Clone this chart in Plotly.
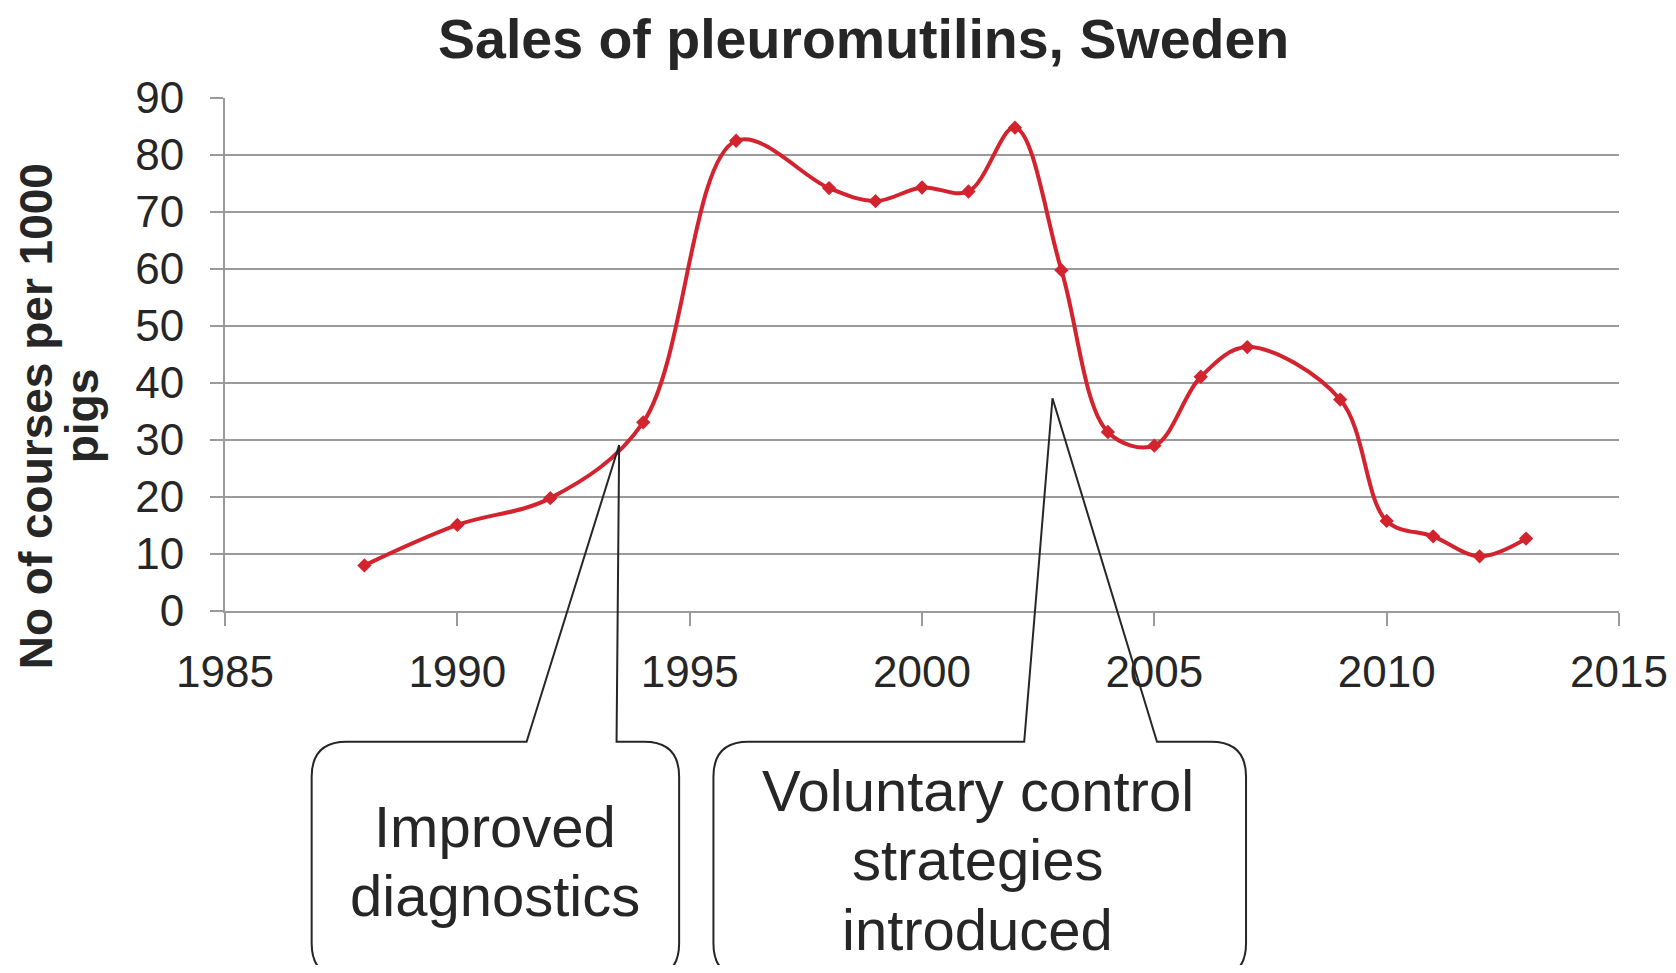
import plotly.graph_objects as go

# ---- data ----
years = [1988, 1990, 1992, 1994, 1996, 1998, 1999, 2000, 2001, 2002,
         2003, 2004, 2005, 2006, 2007, 2009, 2010, 2011, 2012, 2013]
courses = [8.0, 15.1, 19.8, 33.1, 82.5, 74.2, 71.9, 74.3, 73.6, 84.8,
           59.8, 31.4, 29.0, 41.1, 46.3, 37.1, 15.8, 13.1, 9.6, 12.7]

title_text = "Sales of pleuromutilins, Sweden"
ytitle_lines = ["No of courses per 1000", "pigs"]
callout1_lines = ["Improved", "diagnostics"]
callout2_lines = ["Voluntary control", "strategies", "introduced"]
x_ticks = [1985, 1990, 1995, 2000, 2005, 2010, 2015]
y_ticks = [0, 10, 20, 30, 40, 50, 60, 70, 80, 90]

# ---- layout geometry (page pixels of the reference) ----
PAGE_W, PAGE_H = 1676, 973
OFF = 8  # default body margin of the html page
W, H = PAGE_W - 2 * OFF, PAGE_H - 2 * OFF
L, R, T, B = 225.0, 1619.5, 98.2, 611.0
FONT = "Liberation Sans, Arial, sans-serif"
TXT = "#262626"
GRID = "#9a9a9a"
RED = "#d2232e"


def paper(px, py):
    return (px - L) / (R - L), (B - py) / (B - T)


def callout_path(x0, x1, top, bottom, base_l, base_r, tip, r=35):
    def P(x, y):
        a, b = paper(x, y)
        return f"{a:.5f},{b:.5f}"

    s = f"M{P(base_l, top)} L{P(*tip)} L{P(base_r, top)} L{P(x1 - r, top)} "
    s += f"Q{P(x1, top)} {P(x1, top + r)} L{P(x1, bottom - r)} "
    s += f"Q{P(x1, bottom)} {P(x1 - r, bottom)} L{P(x0 + r, bottom)} "
    s += f"Q{P(x0, bottom)} {P(x0, bottom - r)} L{P(x0, top + r)} "
    s += f"Q{P(x0, top)} {P(x0 + r, top)} Z"
    return s


fig = go.Figure()
fig.add_trace(go.Scatter(
    x=years, y=courses, mode="lines+markers",
    line=dict(color=RED, width=4, shape="spline", smoothing=1.0),
    marker=dict(symbol="diamond", size=11, color=RED),
    showlegend=False, hoverinfo="x+y",
))

shapes = [
    dict(type="path", xref="paper", yref="paper",
         path=callout_path(311.7, 679.3, 741.7, 978, 526.7, 616.7, (619.3, 445.0)),
         line=dict(color=TXT, width=2), fillcolor="rgba(0,0,0,0)", layer="above"),
    dict(type="path", xref="paper", yref="paper",
         path=callout_path(713.6, 1246.4, 741.7, 978, 1024.5, 1157.3, (1052.8, 398.3)),
         line=dict(color=TXT, width=2), fillcolor="rgba(0,0,0,0)", layer="above"),
]

annotations = []
tx, ty = paper(864, 39.5)
annotations.append(dict(text=f"<b>{title_text}</b>", x=tx, y=ty, xref="paper", yref="paper",
                        showarrow=False, xanchor="center", yanchor="middle",
                        font=dict(family=FONT, size=55.5, color=TXT)))
for line, cx in zip(ytitle_lines, [36.0, 82.0]):
    ax, ay = paper(cx, 416.3)
    annotations.append(dict(text=f"<b>{line}</b>", x=ax, y=ay, xref="paper", yref="paper",
                            showarrow=False, xanchor="center", yanchor="middle", textangle=-90,
                            font=dict(family=FONT, size=46, color=TXT)))
for line, cy in zip(callout1_lines, [826.6, 894.9]):
    ax, ay = paper(495.5, cy)
    annotations.append(dict(text=line, x=ax, y=ay, xref="paper", yref="paper",
                            showarrow=False, xanchor="center", yanchor="middle",
                            font=dict(family=FONT, size=58, color=TXT)))
for line, cy in zip(callout2_lines, [790.0, 859.0, 929.0]):
    ax, ay = paper(978.0, cy)
    annotations.append(dict(text=line, x=ax, y=ay, xref="paper", yref="paper",
                            showarrow=False, xanchor="center", yanchor="middle",
                            font=dict(family=FONT, size=58, color=TXT)))

fig.update_layout(
    width=W, height=H, autosize=False,
    margin=dict(l=L - OFF, r=W - (R - OFF), t=T - OFF, b=H - (B - OFF), pad=0),
    paper_bgcolor="white", plot_bgcolor="white",
    shapes=shapes, annotations=annotations,
    font=dict(family=FONT, color=TXT),
    xaxis=dict(range=[1985, 2015], tickvals=x_ticks, ticktext=[str(v) for v in x_ticks],
               showgrid=False, zeroline=False, showline=True, linecolor=GRID, linewidth=2,
               ticks="outside", ticklen=13, tickwidth=2, tickcolor=GRID,
               ticklabelstandoff=8, automargin=False,
               tickfont=dict(family=FONT, size=44, color=TXT)),
    yaxis=dict(range=[0, 90], tickvals=y_ticks, ticktext=[str(v) for v in y_ticks],
               showgrid=True, gridcolor=GRID, gridwidth=2, zeroline=False,
               showline=True, linecolor=GRID, linewidth=2,
               ticks="outside", ticklen=13, tickwidth=2, tickcolor=GRID,
               ticklabelstandoff=17, automargin=False,
               tickfont=dict(family=FONT, size=44, color=TXT)),
)

fig.write_html("out.html")
